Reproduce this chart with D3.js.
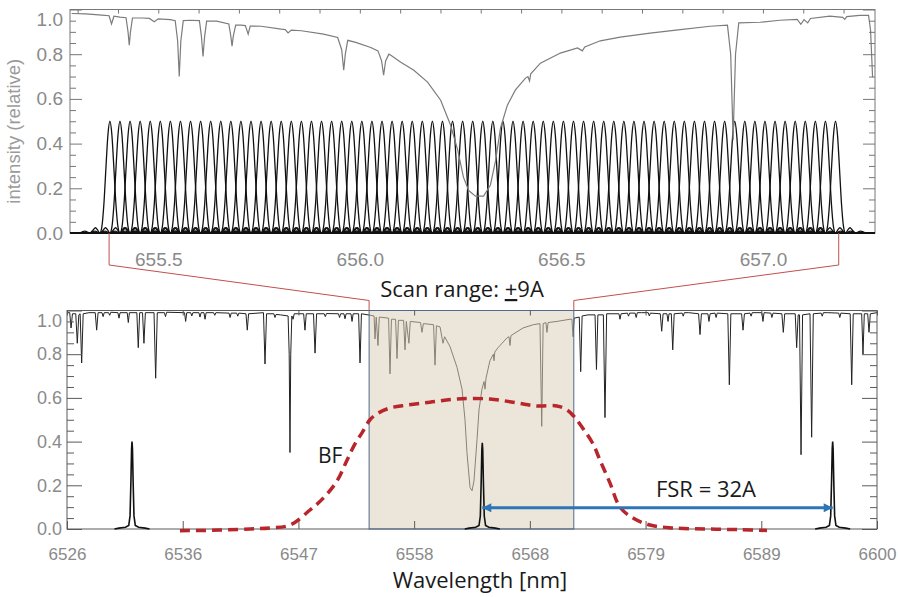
<!DOCTYPE html>
<html>
<head>
<meta charset="utf-8">
<script src="https://cdn.jsdelivr.net/npm/d3@7"></script>
<style>
  html, body { margin: 0; padding: 0; background: #fff; }
  svg { display: block; }
</style>
</head>
<body>
<div id="chart"></div>
<script>
// ---- top panel: H-alpha profile (nm, relative intensity) ----
const topSpectrum = [
  [655.285, 0.982], [655.320, 0.980], [655.360, 0.975],
  [655.378, 0.972], [655.384, 0.935], [655.390, 0.970], [655.405, 0.966],
  [655.420, 0.963], [655.425, 0.900], [655.428, 0.840], [655.431, 0.900], [655.436, 0.962],
  [655.460, 0.962], [655.478, 0.960], [655.490, 0.945], [655.500, 0.958], [655.530, 0.955],
  [655.542, 0.950], [655.548, 0.860], [655.552, 0.700], [655.556, 0.860], [655.562, 0.950],
  [655.580, 0.952],
  [655.602, 0.950], [655.607, 0.880], [655.611, 0.790], [655.615, 0.880], [655.620, 0.948],
  [655.645, 0.948],
  [655.675, 0.935], [655.680, 0.880], [655.683, 0.836], [655.686, 0.880], [655.692, 0.930],
  [655.705, 0.930], [655.716, 0.928], [655.723, 0.890], [655.728, 0.926],
  [655.755, 0.925], [655.805, 0.912], [655.815, 0.910], [655.822, 0.895], [655.830, 0.908],
  [655.855, 0.905], [655.910, 0.890],
  [655.945, 0.875], [655.955, 0.820], [655.960, 0.728], [655.964, 0.800], [655.970, 0.862],
  [655.990, 0.853], [656.027, 0.830],
  [656.045, 0.815], [656.054, 0.770], [656.059, 0.706], [656.064, 0.770], [656.072, 0.800],
  [656.077, 0.795], [656.1015, 0.764], [656.134, 0.728], [656.168, 0.675], [656.2005, 0.594],
  [656.225, 0.483], [656.243, 0.370], [656.257, 0.250], [656.270, 0.190], [656.287, 0.165],
  [656.307, 0.165], [656.324, 0.215], [656.337, 0.326], [656.349, 0.470], [656.366, 0.572],
  [656.386, 0.640], [656.411, 0.693], [656.417, 0.700], [656.421, 0.680], [656.424, 0.712],
  [656.448, 0.760], [656.4975, 0.805], [656.540, 0.828], [656.552, 0.815], [656.558, 0.832],
  [656.5965, 0.860], [656.646, 0.876], [656.720, 0.894], [656.795, 0.910], [656.869, 0.925],
  [656.912, 0.930], [656.920, 0.800], [656.924, 0.550], [656.926, 0.415], [656.928, 0.550],
  [656.932, 0.800], [656.940, 0.940],
  [656.993, 0.943], [657.042, 0.952], [657.085, 0.956], [657.094, 0.934], [657.102, 0.955],
  [657.111, 0.940], [657.118, 0.960], [657.166, 0.970], [657.198, 0.965], [657.203, 0.956],
  [657.208, 0.968], [657.240, 0.974], [657.262, 0.974], [657.267, 0.907], [657.272, 0.697]
];

// tuning positions of the filter (nm)
const scanCenters = [
  655.380, 655.405, 655.430, 655.455, 655.480, 655.505, 655.530, 655.555, 655.580, 655.605,
  655.630, 655.655, 655.680, 655.705, 655.730, 655.755, 655.780, 655.805, 655.830, 655.855,
  655.880, 655.905, 655.930, 655.955, 655.980, 656.005, 656.030, 656.055, 656.080, 656.105,
  656.130, 656.155, 656.180, 656.205, 656.230, 656.255, 656.280, 656.305, 656.330, 656.355,
  656.380, 656.405, 656.430, 656.455, 656.480, 656.505, 656.530, 656.555, 656.580, 656.605,
  656.630, 656.655, 656.680, 656.705, 656.730, 656.755, 656.780, 656.805, 656.830, 656.855,
  656.880, 656.905, 656.930, 656.955, 656.980, 657.005, 657.030, 657.055, 657.080, 657.105,
  657.130, 657.155, 657.180
];
const scanPeak = 0.5;
// one transmission profile: offset from centre (nm), fraction of peak
const scanProfile = [
  [-0.075, 0], [-0.062, 0.016], [-0.05, 0], [-0.042, 0.025], [-0.036, 0.047], [-0.03, 0.024],
  [-0.025, 0], [-0.02, 0.055], [-0.015, 0.255], [-0.01, 0.573], [-0.005, 0.875], [0, 1],
  [0.005, 0.875], [0.01, 0.573], [0.015, 0.255], [0.02, 0.055], [0.025, 0],
  [0.03, 0.024], [0.036, 0.047], [0.042, 0.025], [0.05, 0], [0.062, 0.016], [0.075, 0]
];

const topXMinor = [655.3, 655.4, 655.5, 655.6, 655.7, 655.8, 655.9, 656.0, 656.1, 656.2,
  656.3, 656.4, 656.5, 656.6, 656.7, 656.8, 656.9, 657.0, 657.1, 657.2];
const topXMajor = [655.5, 656.0, 656.5, 657.0];
const topXLabels = ['655.5', '656.0', '656.5', '657.0'];
const yMajor = [0, 0.2, 0.4, 0.6, 0.8, 1.0];
const yLabels = ['0.0', '0.2', '0.4', '0.6', '0.8', '1.0'];
const yMinor = [0.05, 0.1, 0.15, 0.25, 0.3, 0.35, 0.45, 0.5, 0.55, 0.65, 0.7, 0.75, 0.85, 0.9, 0.95];

// ---- bottom panel: wide spectrum (Angstrom) ----
const botSpectrum = [
  [6526.0, 0.99], [6526.25, 0.99], [6526.37, 0.92], [6526.5, 0.985],
  [6526.8, 0.985], [6526.94, 0.85], [6527.08, 0.98],
  [6527.2, 0.985], [6527.34, 0.76], [6527.48, 0.985], [6528.0, 0.99],
  [6528.58, 0.99], [6528.71, 0.91], [6528.84, 0.99],
  [6529.2, 0.99], [6529.3, 0.972], [6529.4, 0.99],
  [6529.8, 0.99], [6529.9, 0.978], [6530.0, 0.992],
  [6530.65, 0.99], [6530.75, 0.965], [6530.85, 0.99],
  [6531.5, 0.99], [6531.6, 0.945], [6531.7, 0.99],
  [6532.38, 0.99], [6532.51, 0.83], [6532.64, 0.99],
  [6532.9, 0.99], [6533.03, 0.85], [6533.16, 0.99],
  [6533.95, 0.99], [6534.10, 0.69], [6534.25, 0.99],
  [6534.9, 0.99], [6535.0, 0.972], [6535.1, 0.992],
  [6536.74, 0.99], [6536.84, 0.95], [6536.94, 0.99],
  [6537.3, 0.99], [6537.4, 0.975], [6537.5, 0.99],
  [6538.05, 0.99], [6538.15, 0.97], [6538.25, 0.99],
  [6538.51, 0.99], [6538.61, 0.96], [6538.71, 0.99],
  [6539.4, 0.99], [6539.5, 0.978], [6539.6, 0.99],
  [6540.8, 0.988], [6540.9, 0.968], [6541.0, 0.988],
  [6541.5, 0.988], [6541.6, 0.974], [6541.7, 0.988],
  [6542.35, 0.985], [6542.47, 0.91], [6542.59, 0.985],
  [6543.95, 0.99], [6544.09, 0.755], [6544.23, 0.985],
  [6544.9, 0.985], [6545.0, 0.968], [6545.1, 0.982], [6545.5, 0.98],
  [6546.2, 0.975], [6546.3, 0.8], [6546.37, 0.35], [6546.44, 0.8], [6546.54, 0.975],
  [6546.65, 0.96], [6546.76, 0.985],
  [6547.62, 0.985], [6547.74, 0.91], [6547.86, 0.985],
  [6548.52, 0.985], [6548.66, 0.805], [6548.8, 0.985],
  [6549.5, 0.985], [6549.6, 0.972], [6549.7, 0.986],
  [6550.8, 0.985], [6550.9, 0.968], [6551.0, 0.985],
  [6551.3, 0.985], [6551.4, 0.962], [6551.5, 0.985],
  [6551.94, 0.985], [6552.04, 0.95], [6552.14, 0.985],
  [6552.64, 0.985], [6552.77, 0.76], [6552.9, 0.985], [6553.5, 0.98],
  [6554.05, 0.975], [6554.14, 0.87], [6554.25, 0.97], [6554.41, 0.84], [6554.53, 0.97],
  [6555.38, 0.965], [6555.51, 0.71], [6555.64, 0.96],
  [6556.02, 0.96], [6556.15, 0.78], [6556.28, 0.955],
  [6556.75, 0.955], [6556.88, 0.82], [6557.0, 0.95], [6557.24, 0.85], [6557.36, 0.95],
  [6558.3, 0.945], [6558.43, 0.90], [6558.56, 0.94],
  [6559.49, 0.935], [6559.62, 0.75], [6559.75, 0.93],
  [6560.08, 0.925], [6560.35, 0.85], [6560.5, 0.88], [6560.99, 0.835],
  [6561.63, 0.74], [6562.09, 0.64], [6562.36, 0.50], [6562.54, 0.35], [6562.82, 0.19],
  [6563.00, 0.175], [6563.18, 0.22], [6563.46, 0.41], [6563.64, 0.545], [6563.91, 0.64],
  [6564.1, 0.675], [6564.19, 0.64], [6564.28, 0.69], [6564.64, 0.77],
  [6564.95, 0.80], [6565.01, 0.77], [6565.08, 0.81], [6565.38, 0.83], [6566.2, 0.875],
  [6566.38, 0.88], [6566.47, 0.84], [6566.56, 0.885], [6567.66, 0.92], [6568.6, 0.935],
  [6569.21, 0.94], [6569.37, 0.47], [6569.5, 0.94],
  [6569.75, 0.945], [6569.85, 0.90], [6569.95, 0.945], [6570.76, 0.95], [6571.95, 0.96],
  [6572.13, 0.96], [6572.23, 0.88], [6572.33, 0.965],
  [6572.8, 0.97], [6572.93, 0.72], [6573.06, 0.975], [6573.6, 0.98],
  [6574.24, 0.98], [6574.37, 0.73], [6574.5, 0.98],
  [6575.0, 0.98], [6575.15, 0.51], [6575.3, 0.985],
  [6576.42, 0.985], [6576.52, 0.96], [6576.62, 0.985],
  [6577.2, 0.988], [6577.3, 0.974], [6577.4, 0.988],
  [6577.9, 0.988], [6578.0, 0.968], [6578.1, 0.99], [6578.5, 0.99],
  [6579.1, 0.99], [6579.2, 0.975], [6579.3, 0.988],
  [6580.2, 0.985], [6580.33, 0.905], [6580.46, 0.985],
  [6580.81, 0.985], [6580.91, 0.95], [6581.0, 0.985],
  [6581.21, 0.985], [6581.34, 0.82], [6581.47, 0.985],
  [6582.2, 0.988], [6582.3, 0.974], [6582.4, 0.99], [6582.8, 0.99],
  [6583.7, 0.985], [6583.83, 0.89], [6583.96, 0.985],
  [6584.55, 0.985], [6584.65, 0.95], [6584.75, 0.985],
  [6585.2, 0.988], [6585.3, 0.968], [6585.4, 0.988],
  [6586.37, 0.985], [6586.51, 0.66], [6586.65, 0.985],
  [6587.63, 0.985], [6587.76, 0.91], [6587.89, 0.985],
  [6588.4, 0.988], [6588.5, 0.974], [6588.6, 0.99],
  [6589.48, 0.99], [6589.58, 0.95], [6589.68, 0.99],
  [6590.3, 0.988], [6590.4, 0.968], [6590.5, 0.988],
  [6591.31, 0.985], [6591.44, 0.90], [6591.57, 0.985],
  [6592.53, 0.985], [6592.66, 0.83], [6592.8, 0.98],
  [6592.92, 0.98], [6593.06, 0.34], [6593.2, 0.98],
  [6593.88, 0.985], [6594.03, 0.42], [6594.18, 0.985],
  [6594.9, 0.988], [6595.0, 0.974], [6595.1, 0.99], [6595.5, 0.99],
  [6596.5, 0.988], [6596.6, 0.968], [6596.7, 0.988],
  [6597.55, 0.985], [6597.69, 0.66], [6597.83, 0.985],
  [6598.6, 0.985], [6598.72, 0.80], [6598.84, 0.985],
  [6599.15, 0.985], [6599.27, 0.90], [6599.39, 0.985], [6600.0, 0.99]
];

// birefringent filter transmission (dashed red)
const bfCurve = [
  [6536.32, -0.008], [6539.98, -0.005], [6542.72, 0.0], [6544.55, 0.005], [6546.37, 0.018],
  [6548.2, 0.087], [6549.39, 0.14], [6550.67, 0.22], [6551.58, 0.315], [6552.31, 0.39],
  [6552.95, 0.44], [6553.68, 0.5], [6554.41, 0.53], [6555.51, 0.554], [6557.06, 0.567],
  [6559.16, 0.58], [6561.63, 0.595], [6564.64, 0.595], [6567.11, 0.577], [6568.94, 0.563],
  [6570.76, 0.563], [6571.68, 0.545], [6572.41, 0.51], [6573.14, 0.46], [6574.05, 0.39],
  [6574.69, 0.315], [6575.61, 0.21], [6576.52, 0.1], [6577.71, 0.05], [6579.26, 0.018],
  [6581.36, 0.005], [6584.47, 0.0], [6587.48, -0.003], [6589.95, -0.007]
];

// Fabry-Perot orders, one FSR apart
const foCenters = [6531.94, 6563.94, 6595.95];
const foHeights = [0.40, 0.395, 0.40];
const foProfile = [
  [-1.6, 0], [-1.2, 0.01], [-0.6, 0.02], [-0.3, 0.04], [-0.18, 0.15], [-0.1, 0.55],
  [-0.04, 0.92], [0, 1], [0.04, 0.92], [0.1, 0.55], [0.18, 0.15], [0.3, 0.04],
  [0.6, 0.02], [1.2, 0.01], [1.6, 0]
];

const scanBox = [6553.6, 6572.3];
const scanEdgesTop = [655.378, 657.188];
const fsrArrow = { from: 6563.94, to: 6595.95, level: 0.097 };

const botXTicks = [6526, 6536.571, 6547.143, 6557.714, 6568.286, 6578.857, 6589.429, 6600];
const botXLabels = ['6526', '6536', '6547', '6558', '6568', '6579', '6589', '6600'];

// ---- layout ----
const width = 898;
const height = 597;
const panelA = { left: 70, right: 875, top: 9.5, bottom: 233 };
const panelB = { left: 67, right: 877, top: 310.5, bottom: 529 };
const LABEL_FONT = "'Liberation Sans', Arial, sans-serif";
const NOTE_FONT = "'Open Sans', 'Noto Sans', sans-serif";
const LABEL_GREY = '#8a8a8a';

const svg = d3.select('#chart').append('svg')
  .attr('width', width)
  .attr('height', height);

svg.append('rect').attr('width', width).attr('height', height).attr('fill', '#fff');

const xTop = d3.scaleLinear().domain([655.281, 657.278]).range([panelA.left, panelA.right]);
const yTop = d3.scaleLinear().domain([0, 1]).range([panelA.bottom, panelA.top]);
const xBot = d3.scaleLinear().domain([6526, 6600]).range([panelB.left, panelB.right]);
const yBot = d3.scaleLinear().domain([0, 1]).range([panelB.bottom, panelB.top]);

function styleAxis(g, color, fontSize) {
  g.select('.domain').remove();
  g.selectAll('line').attr('stroke', color).attr('stroke-width', 1);
  g.selectAll('text')
    .attr('fill', LABEL_GREY)
    .style('font-family', LABEL_FONT)
    .style('font-size', fontSize + 'px');
}

function renderFrame(p, x, y, opts) {
  const g = svg.append('g');
  const c = opts.color;

  // left / right y ticks
  g.append('g').attr('transform', `translate(${p.left},0)`)
    .call(d3.axisLeft(y).tickValues(yMinor).tickSize(-opts.yMinorLen).tickFormat(''))
    .call(s => styleAxis(s, c, opts.yFont));
  const yl = g.append('g').attr('transform', `translate(${p.left},0)`)
    .call(d3.axisLeft(y).tickValues(yMajor).tickSize(-opts.yMajorLen)
      .tickPadding(opts.yPad).tickFormat((d, i) => yLabels[i]))
    .call(s => styleAxis(s, c, opts.yFont));
  // top label is pushed down inside the frame
  yl.selectAll('.tick').filter(d => d === 1).select('text').attr('y', opts.topLabelShift);

  g.append('g').attr('transform', `translate(${p.right},0)`)
    .call(d3.axisRight(y).tickValues(yMinor).tickSize(-opts.yMinorLen).tickFormat(''))
    .call(s => styleAxis(s, c, opts.yFont));
  g.append('g').attr('transform', `translate(${p.right},0)`)
    .call(d3.axisRight(y).tickValues(yMajor).tickSize(-opts.yMajorLen).tickFormat(''))
    .call(s => styleAxis(s, c, opts.yFont));

  // x ticks
  g.append('g').attr('transform', `translate(0,${p.top})`)
    .call(d3.axisTop(x).tickValues(opts.xMinor).tickSize(-opts.xTopLen).tickFormat(''))
    .call(s => styleAxis(s, c, opts.xFont));
  g.append('g').attr('transform', `translate(0,${p.bottom})`)
    .call(d3.axisBottom(x).tickValues(opts.xMajor).tickSize(-opts.xBotLen)
      .tickPadding(opts.xPad).tickFormat((d, i) => opts.xLabels[i]))
    .call(s => styleAxis(s, c, opts.xFont));

  g.append('rect')
    .attr('x', p.left).attr('y', p.top)
    .attr('width', p.right - p.left).attr('height', p.bottom - p.top)
    .attr('fill', 'none').attr('stroke', c).attr('stroke-width', 1);
  return g;
}

// ---------- top panel ----------
function renderTop() {
  const profLine = d3.line()
    .x(d => xTop(d[0]))
    .y(d => yTop(d[1]))
    .curve(d3.curveMonotoneX);

  svg.append('g')
    .selectAll('path')
    .data(scanCenters)
    .enter()
    .append('path')
    .attr('d', c => profLine(scanProfile.map(p => [c + p[0], p[1] * scanPeak])))
    .attr('fill', 'none')
    .attr('stroke', '#111')
    .attr('stroke-width', 1.3);

  svg.append('path')
    .datum(topSpectrum)
    .attr('d', d3.line().x(d => xTop(d[0])).y(d => yTop(d[1])))
    .attr('fill', 'none')
    .attr('stroke', '#7c7c7c')
    .attr('stroke-width', 1.2);

  renderFrame(panelA, xTop, yTop, {
    color: '#777',
    yMajorLen: 12, yMinorLen: 6, yPad: 7, yFont: 19, topLabelShift: 10,
    xMinor: topXMinor, xMajor: topXMajor, xLabels: topXLabels,
    xTopLen: 4, xBotLen: 0, xPad: 20, xFont: 19
  });

  // heavy baseline
  svg.append('line')
    .attr('x1', panelA.left).attr('x2', panelA.right)
    .attr('y1', yTop(0)).attr('y2', yTop(0))
    .attr('stroke', '#111').attr('stroke-width', 2);

  svg.append('text')
    .attr('transform', `translate(20,${(panelA.top + panelA.bottom) / 2 + 10}) rotate(-90)`)
    .attr('text-anchor', 'middle')
    .attr('fill', '#9a9a9a')
    .style('font-family', LABEL_FONT)
    .style('font-size', '18.5px')
    .text('intensity (relative)');
}

// ---------- connectors ----------
function renderConnectors() {
  const bendY = 265;
  const boxTopY = 300.5;
  [0, 1].forEach(i => {
    const pts = [
      [xTop(scanEdgesTop[i]), panelA.bottom],
      [xTop(scanEdgesTop[i]), bendY],
      [xBot(scanBox[i]), boxTopY],
      [xBot(scanBox[i]), panelB.top]
    ];
    svg.append('path')
      .attr('d', d3.line()(pts))
      .attr('fill', 'none')
      .attr('stroke', '#c0504d')
      .attr('stroke-width', 1);
  });
}

// ---------- bottom panel ----------
function renderBottom() {
  svg.append('path')
    .datum(botSpectrum)
    .attr('d', d3.line().x(d => xBot(d[0])).y(d => yBot(d[1])))
    .attr('fill', 'none')
    .attr('stroke', '#222')
    .attr('stroke-width', 1);

  // scan range box, translucent over the spectrum
  svg.append('rect')
    .attr('x', xBot(scanBox[0]))
    .attr('y', panelB.top)
    .attr('width', xBot(scanBox[1]) - xBot(scanBox[0]))
    .attr('height', panelB.bottom - panelB.top)
    .attr('fill', 'rgb(218,210,186)')
    .attr('fill-opacity', 0.55);

  renderFrame(panelB, xBot, yBot, {
    color: '#5a5a5a',
    yMajorLen: 15, yMinorLen: 7, yPad: 5, yFont: 18, topLabelShift: 10,
    xMinor: botXTicks, xMajor: botXTicks, xLabels: botXLabels,
    xTopLen: 5, xBotLen: 8, xPad: 19, xFont: 17
  });

  svg.append('rect')
    .attr('x', xBot(scanBox[0]))
    .attr('y', panelB.top)
    .attr('width', xBot(scanBox[1]) - xBot(scanBox[0]))
    .attr('height', panelB.bottom - panelB.top)
    .attr('fill', 'none')
    .attr('stroke', '#4e6a8c')
    .attr('stroke-width', 1);

  svg.append('path')
    .datum(bfCurve)
    .attr('d', d3.line().x(d => xBot(d[0])).y(d => yBot(d[1])).curve(d3.curveCatmullRom))
    .attr('fill', 'none')
    .attr('stroke', '#b8262b')
    .attr('stroke-width', 3.5)
    .attr('stroke-dasharray', '10,6');

  const foLine = d3.line().x(d => xBot(d[0])).y(d => yBot(d[1]));
  svg.append('g')
    .selectAll('path')
    .data(foCenters)
    .enter()
    .append('path')
    .attr('d', (c, i) => foLine(foProfile.map(p => [c + p[0], p[1] * foHeights[i]])))
    .attr('fill', 'none')
    .attr('stroke', '#111')
    .attr('stroke-width', 1.6);

  // FSR arrow
  const defs = svg.append('defs');
  defs.append('marker')
    .attr('id', 'head')
    .attr('viewBox', '0 0 10 10')
    .attr('refX', 10).attr('refY', 5)
    .attr('markerUnits', 'userSpaceOnUse')
    .attr('markerWidth', 11).attr('markerHeight', 9)
    .attr('orient', 'auto-start-reverse')
    .append('path')
    .attr('d', 'M0,0 L10,5 L0,10 z')
    .attr('fill', '#2e75b6');

  svg.append('line')
    .attr('x1', xBot(fsrArrow.from)).attr('x2', xBot(fsrArrow.to))
    .attr('y1', yBot(fsrArrow.level)).attr('y2', yBot(fsrArrow.level))
    .attr('stroke', '#2e75b6')
    .attr('stroke-width', 3)
    .attr('marker-start', 'url(#head)')
    .attr('marker-end', 'url(#head)');

  // annotations
  const note = (x, y, anchor, size) => svg.append('text')
    .attr('x', x).attr('y', y)
    .attr('text-anchor', anchor)
    .attr('fill', '#1a1a1a')
    .style('font-family', NOTE_FONT)
    .style('font-size', (size || 22) + 'px');

  const scan = note(462, 297, 'middle');
  scan.append('tspan').text('Scan range: ');
  scan.append('tspan').style('text-decoration', 'underline').text('+');
  scan.append('tspan').text('9A');

  note(318, 463, 'start', 21).text('BF');
  note(706, 497, 'middle').text('FSR = 32A');
  note(480, 588, 'middle').text('Wavelength [nm]');
}

renderTop();
renderConnectors();
renderBottom();
</script>
</body>
</html>
